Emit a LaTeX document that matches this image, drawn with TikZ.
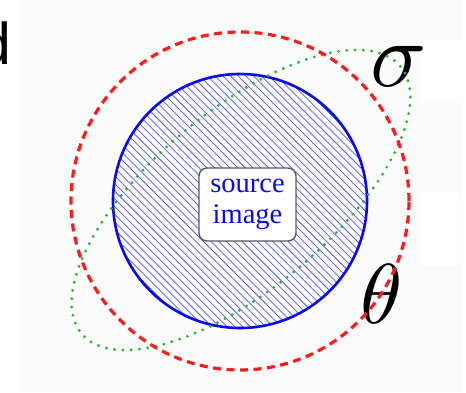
\documentclass[tikz,border=0pt]{standalone}
\usepackage{fontspec}
\newfontfamily\boxfont{Liberation Serif}
\newfontfamily\dfont{Liberation Sans}
\definecolor{bgray}{HTML}{FBFBFB}
\definecolor{hgreen}{HTML}{2DB52D}
\definecolor{hred}{HTML}{FF1A1A}
\definecolor{hblue}{HTML}{0A0AF0}
\definecolor{hatchblue}{HTML}{5A5AFF}
\definecolor{boxborder}{HTML}{5A5A5A}
\tikzset{
  hatchline/.style={hatchblue, line width=0.75pt},
  bluecircle/.style={hblue, line width=2.6pt},
  greendots/.style={hgreen, line width=3.2pt, line cap=round, dash pattern=on 0pt off 8.3pt},
  reddash/.style={hred, line width=3.2pt, dash pattern=on 8pt off 5.5pt},
  srcbox/.style={draw=boxborder, line width=1.4pt, fill=white, rounded corners=8pt,
    minimum width=97pt, minimum height=73pt, inner sep=0pt, align=center,
    font=\boxfont\fontsize{28.5}{31}\selectfont, text=hblue},
  greek/.style={inner sep=0pt, text=black}
}
\begin{document}
\begin{tikzpicture}[x=1pt,y=1pt]
  \useasboundingbox (0,0) rectangle (466,392);
  % background panels
  \fill[bgray] (20,0) rectangle (462,392);
  \fill[white] (420,289) rectangle (462,352);
  \fill[white, rounded corners=5pt] (420,127) rectangle (461,200);
  % cut-off letter at the left
  \node[anchor=base west, inner sep=0pt, font=\dfont\fontsize{59}{59}\selectfont] (dletter) at (-22,327) {d};
  % hatched source disc
  \coordinate (c) at (240,191);
  \begin{scope}
    \clip (c) circle (127);
    \foreach \i in {-25,...,25} {
      \draw[hatchline] ({40+\i*7.7},391) -- ({440+\i*7.7},-9);
    }
  \end{scope}
  \draw[bluecircle] (c) circle (127);
  % greek labels
  \node[greek, scale=9.3] (sigma) at (399,326) {$\sigma$};
  \node[greek, scale=8.5] (theta) at (382,98) {$\theta$};
  % ellipse and circle
  \draw[greendots, rotate around={40:(241,192)}] (241,192) ellipse (208 and 89);
  \draw[reddash] (c) circle (169);
  % centre box
  \node[srcbox] (src) at (247.5,187.5) {source\\image};
\end{tikzpicture}
\end{document}
